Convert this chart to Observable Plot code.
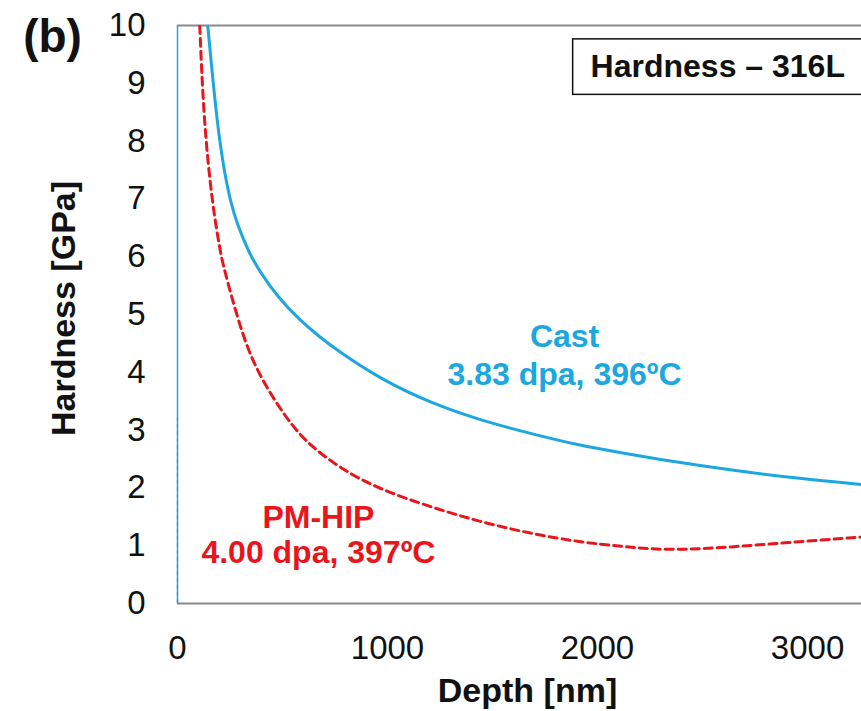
<!DOCTYPE html>
<html>
<head>
<meta charset="utf-8">
<script src="https://cdn.jsdelivr.net/npm/d3@7"></script>
<script src="https://cdn.jsdelivr.net/npm/@observablehq/plot@0.6"></script>
<style>
  body { margin: 0; background: #fff; }
  #chart svg { display: block; }
</style>
</head>
<body>
<div id="chart"></div>
<script>
// ---- Data ----
const castDepth    = [144, 188, 226, 255, 281, 340, 400, 476, 580, 681, 760, 967, 1205, 1443, 1681, 1919, 2110, 2332, 2649, 2967, 3257];
const castHardness = [10.0, 8.30, 7.40, 6.92, 6.60, 6.06, 5.70, 5.31, 4.91, 4.60, 4.38, 3.88, 3.47, 3.17, 2.94, 2.73, 2.61, 2.47, 2.30, 2.16, 2.06];

const pmDepth    = [106, 125, 165, 205, 220, 284, 363, 522, 633, 792, 967, 1205, 1443, 1681, 1919, 2110, 2252, 2411, 2649, 2887, 3257];
const pmHardness = [10.0, 8.36, 6.92, 6.06, 5.82, 4.95, 4.09, 3.17, 2.72, 2.30, 1.97, 1.67, 1.41, 1.21, 1.06, 0.99, 0.94, 0.93, 0.98, 1.05, 1.15];

const xTicks = [0, 1000, 2000, 3000];
const yTicks = [0, 1, 2, 3, 4, 5, 6, 7, 8, 9, 10];

const xLabel = "Depth [nm]";
const yLabel = "Hardness [GPa]";
const panelLabel = "(b)";
const titleText = "Hardness – 316L";
const castLabels = ["Cast", "3.83 dpa, 396ºC"];
const pmLabels = ["PM-HIP", "4.00 dpa, 397ºC"];

// ---- Build tables ----
const cast = castDepth.map((d, i) => ({depth: d, hardness: castHardness[i]}));
const pm = pmDepth.map((d, i) => ({depth: d, hardness: pmHardness[i]}));

const BLUE = "#1ca7e0";
const RED = "#e8151b";

const chart = Plot.plot({
  width: 861,
  height: 711,
  marginLeft: 177,
  marginRight: 0,
  marginTop: 25,
  marginBottom: 108,
  style: {fontFamily: "'Liberation Sans', Arial, Helvetica, sans-serif", background: "#fff", color: "#000"},
  x: {domain: [0, 3257]},
  y: {domain: [0, 10]},
  marks: [
    Plot.ruleY([0, 10], {stroke: "#8a8a8a", strokeWidth: 2}),
    Plot.ruleX([0], {stroke: BLUE, strokeWidth: 1.5}),
    Plot.ruleX([0], {y1: 0, y2: 3.2, stroke: "#7a6f9a", strokeWidth: 1.2, strokeDasharray: "4,3"}),
    Plot.line(pm, {x: "depth", y: "hardness", stroke: RED, strokeWidth: 3, strokeDasharray: "8,5", curve: "basis", clip: "frame"}),
    Plot.line(cast, {x: "depth", y: "hardness", stroke: BLUE, strokeWidth: 3, curve: "basis", clip: "frame"}),
    Plot.rect([titleText], {x1: 1884, x2: 3500, y1: 8.80, y2: 9.76, fill: "white", stroke: "#111", strokeWidth: 1.5, clip: "frame"}),
    Plot.text([titleText], {x: 1967, y: 9.29, text: d => d, textAnchor: "start", fontSize: 32, fontWeight: "bold", fill: "#111"}),
    Plot.text([castLabels[0]], {x: 1843, y: 4.62, text: d => d, fontSize: 32, fontWeight: "bold", fill: BLUE}),
    Plot.text([castLabels[1]], {x: 1843, y: 3.96, text: d => d, fontSize: 32, fontWeight: "bold", fill: BLUE}),
    Plot.text([pmLabels[0]], {x: 671, y: 1.49, text: d => d, fontSize: 32, fontWeight: "bold", fill: RED}),
    Plot.text([pmLabels[1]], {x: 671, y: 0.88, text: d => d, fontSize: 32, fontWeight: "bold", fill: RED}),
    Plot.axisX({ticks: xTicks, tickSize: 0, tickPadding: 32, fontSize: 33, label: null, tickFormat: d => String(d), fill: "#111"}),
    Plot.axisY({ticks: yTicks, tickSize: 0, tickPadding: 32, fontSize: 33, label: null, tickFormat: d => String(d), fill: "#111"}),
    Plot.text([xLabel], {frameAnchor: "bottom", text: d => d, textAnchor: "middle", lineAnchor: "middle", dx: 8, dy: 88, fontSize: 34, fontWeight: "bold", fill: "#111"}),
    Plot.text([yLabel], {frameAnchor: "left", text: d => d, textAnchor: "middle", lineAnchor: "middle", rotate: -90, dx: -113, dy: -6, fontSize: 34, fontWeight: "bold", fill: "#111"}),
    Plot.text([panelLabel], {frameAnchor: "top-left", text: d => d, textAnchor: "middle", lineAnchor: "middle", dx: -125, dy: 12, fontSize: 46, fontWeight: "bold", fill: "#111"})
  ]
});

document.getElementById("chart").appendChild(chart);
</script>
</body>
</html>
